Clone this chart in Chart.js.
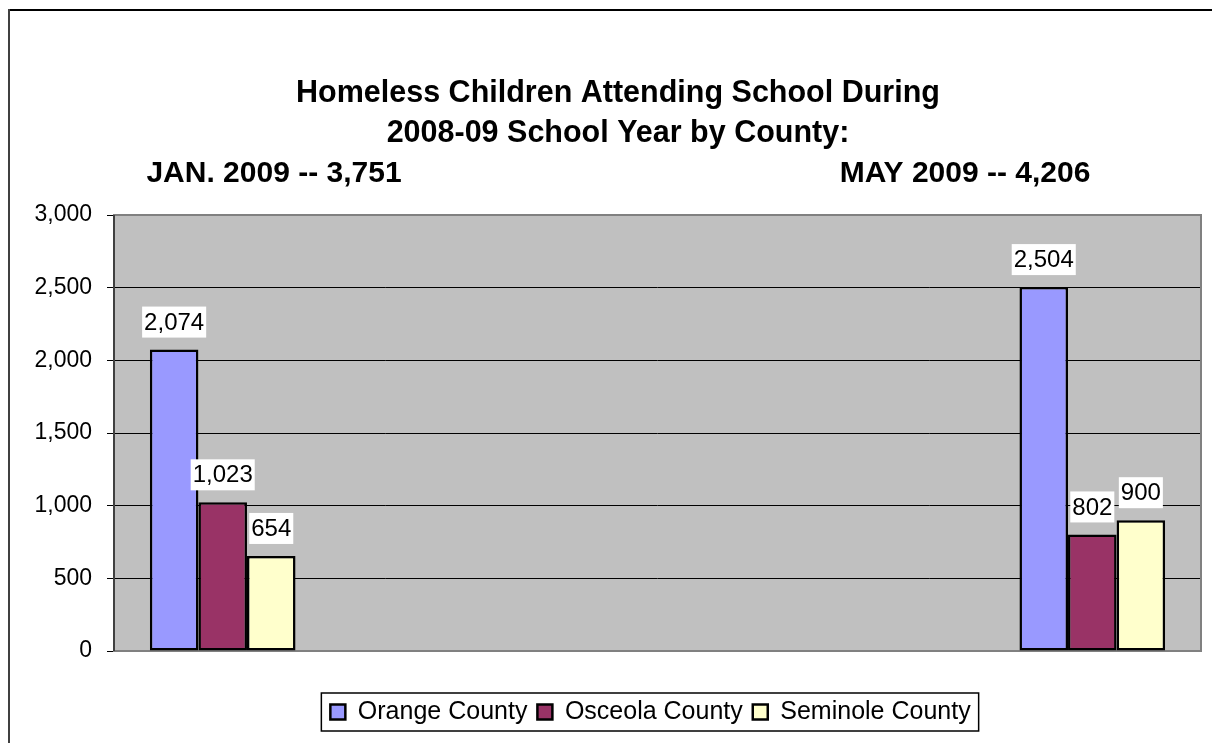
<!DOCTYPE html>
<html>
<head>
<meta charset="utf-8">
<title>Homeless Children Attending School 2008-09</title>
<script src="https://cdn.jsdelivr.net/npm/chart.js@4.4.1/dist/chart.umd.min.js"></script>
<style>
    html, body { margin: 0; padding: 0; background: #fff; }
    #wrap { width: 1212px; height: 743px; }
</style>
</head>
<body>
<div id="wrap"><canvas id="countyChart" width="1212" height="743"></canvas></div>
<script>
// five slots on the x axis, only the first and last carry counts
const periods = ['JAN. 2009', '', '', '', 'MAY 2009'];
const orangeCounty = [2074, null, null, null, 2504];
const osceolaCounty = [1023, null, null, null, 802];
const seminoleCounty = [654, null, null, null, 900];
const yTicks = [0, 500, 1000, 1500, 2000, 2500, 3000];
const titleLines = ['Homeless Children Attending School During', '2008-09 School Year by County:'];

const FONT = "'Liberation Sans', Arial, Helvetica, sans-serif";

function fmt(n) {
    return Number(n).toLocaleString('en-US');
}

function periodTotal(i) {
    return orangeCounty[i] + osceolaCounty[i] + seminoleCounty[i];
}

// gray plot area, frame lines and the legend box
const chartFrame = {
    id: 'chartFrame',
    afterLayout(chart) {
        // nudge the legend a little left of the plot centre
        const lg = chart.legend;
        const dx = -7;
        lg.left += dx;
        lg.right += dx;
        (lg.legendHitBoxes || []).forEach(b => { b.left += dx; });
    },
    beforeDraw(chart) {
        const ctx = chart.ctx;
        const a = chart.chartArea;
        ctx.save();
        ctx.fillStyle = '#C0C0C0';
        ctx.fillRect(a.left, a.top, a.right - a.left, a.bottom - a.top);

        // outer border of the chart object
        ctx.strokeStyle = '#000';
        ctx.lineWidth = 2;
        ctx.beginPath();
        ctx.moveTo(8, 10);
        ctx.lineTo(chart.width, 10);
        ctx.stroke();
        ctx.strokeStyle = '#404040';
        ctx.beginPath();
        ctx.moveTo(9, 9);
        ctx.lineTo(9, chart.height);
        ctx.stroke();
        ctx.restore();
    },
    beforeDatasetsDraw(chart) {
        const ctx = chart.ctx;
        const a = chart.chartArea;
        ctx.save();
        ctx.strokeStyle = '#808080';
        ctx.lineWidth = 2;
        ctx.strokeRect(a.left, a.top, a.right - a.left, a.bottom - a.top);
        ctx.strokeStyle = '#404040';
        ctx.beginPath();
        ctx.moveTo(a.left, a.top);
        ctx.lineTo(a.left, a.bottom);
        ctx.stroke();
        ctx.restore();
    },
    afterDraw(chart) {
        const ctx = chart.ctx;
        const boxes = chart.legend.legendHitBoxes;
        if (!boxes || !boxes.length) return;
        const first = boxes[0];
        const last = boxes[boxes.length - 1];
        const cy = first.top + first.height / 2;
        ctx.save();
        ctx.strokeStyle = '#000';
        ctx.lineWidth = 1.5;
        ctx.strokeRect(first.left - 9, cy - 19, last.left + last.width - first.left + 17, 38);
        ctx.restore();
    }
};

// three-line title, the last line split between the two periods
const titleText = {
    id: 'titleText',
    afterDraw(chart) {
        const ctx = chart.ctx;
        ctx.save();
        ctx.fillStyle = '#000';
        ctx.font = 'bold 30.5px ' + FONT;
        ctx.textAlign = 'center';
        ctx.textBaseline = 'alphabetic';
        ctx.fillText(titleLines[0], 618, 102);
        ctx.fillText(titleLines[1], 618, 142);
        ctx.font = 'bold 30px ' + FONT;
        ctx.fillText(periods[0] + ' -- ' + fmt(periodTotal(0)), 274, 182);
        ctx.fillText(periods[4] + ' -- ' + fmt(periodTotal(4)), 965, 182);
        ctx.restore();
    }
};

// value labels on white boxes above each bar
const barValues = {
    id: 'barValues',
    afterDatasetsDraw(chart) {
        const ctx = chart.ctx;
        ctx.save();
        ctx.font = '24px ' + FONT;
        ctx.textAlign = 'center';
        ctx.textBaseline = 'middle';
        chart.data.datasets.forEach((ds, di) => {
            const meta = chart.getDatasetMeta(di);
            meta.data.forEach((bar, i) => {
                const v = ds.data[i];
                if (v === null || v === undefined) return;
                const text = fmt(v);
                const w = ctx.measureText(text).width + 4;
                const h = 31;
                const cy = bar.y - 12 - h / 2;
                ctx.fillStyle = '#fff';
                ctx.fillRect(bar.x - w / 2, cy - h / 2, w, h);
                ctx.fillStyle = '#000';
                ctx.fillText(text, bar.x, cy + 1);
            });
        });
        ctx.restore();
    }
};

const barStyle = {
    borderColor: '#000',
    borderWidth: 2.5,
    borderSkipped: false,
    categoryPercentage: 0.67,
    barPercentage: 1.0
};

new Chart(document.getElementById('countyChart').getContext('2d'), {
    type: 'bar',
    data: {
        labels: periods,
        datasets: [
            Object.assign({ label: 'Orange County', data: orangeCounty, backgroundColor: '#9999FF' }, barStyle),
            Object.assign({ label: 'Osceola County', data: osceolaCounty, backgroundColor: '#993366' }, barStyle),
            Object.assign({ label: 'Seminole County', data: seminoleCounty, backgroundColor: '#FFFFCC' }, barStyle)
        ]
    },
    options: {
        responsive: false,
        animation: false,
        devicePixelRatio: 1,
        layout: {
            padding: { top: 215, left: 0, right: 11, bottom: 8.5 }
        },
        scales: {
            x: {
                ticks: { display: false },
                grid: { display: false, drawTicks: false },
                border: { display: false },
                afterFit(scale) { scale.height = 38.5; }
            },
            y: {
                min: yTicks[0],
                max: yTicks[yTicks.length - 1],
                afterBuildTicks(scale) {
                    scale.ticks = yTicks.map(v => ({ value: v }));
                },
                ticks: {
                    color: '#000',
                    font: { family: FONT, size: 23 },
                    padding: 15,
                    callback: v => fmt(v)
                },
                grid: {
                    color: c => (c.tick && (c.tick.value === 0 || c.tick.value === 3000)) ? 'rgba(0,0,0,0)' : '#000',
                    tickColor: '#000',
                    tickLength: 7,
                    lineWidth: 1
                },
                border: { display: false },
                afterFit(scale) { scale.width = 114; }
            }
        },
        plugins: {
            title: { display: false },
            tooltip: { enabled: false },
            legend: {
                position: 'bottom',
                fullSize: false,
                labels: {
                    color: '#000',
                    font: { family: FONT, size: 25 },
                    boxWidth: 15,
                    boxHeight: 15,
                    padding: 10
                }
            }
        }
    },
    plugins: [chartFrame, titleText, barValues]
});
</script>
</body>
</html>
